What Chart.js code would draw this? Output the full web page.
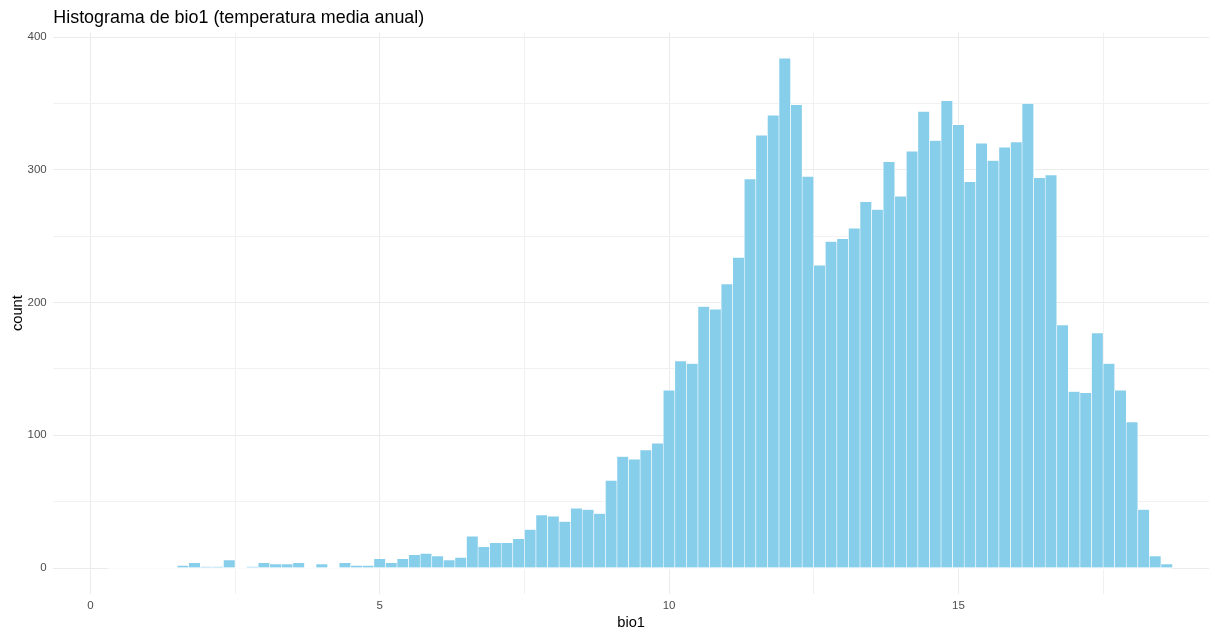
<!DOCTYPE html>
<html lang="es">
<head>
<meta charset="utf-8">
<title>Histograma de bio1</title>
<script src="https://cdn.jsdelivr.net/npm/chart.js@4.4.1/dist/chart.umd.min.js"></script>
<style>
  html, body { margin: 0; padding: 0; background: #ffffff; }
  #wrap { width: 1215px; height: 632px; }
</style>
</head>
<body>
<div id="wrap"><canvas id="hist" width="1215" height="632"></canvas></div>
<script>
// centros de las clases (ancho 0.2) y conteos
const binCenters = [
  0.4, 0.6, 0.8, 1.0, 1.2, 1.4, 1.6, 1.8, 2.0, 2.2,
  2.4, 2.6, 2.8, 3.0, 3.2, 3.4, 3.6, 3.8, 4.0, 4.2,
  4.4, 4.6, 4.8, 5.0, 5.2, 5.4, 5.6, 5.8, 6.0, 6.2,
  6.4, 6.6, 6.8, 7.0, 7.2, 7.4, 7.6, 7.8, 8.0, 8.2,
  8.4, 8.6, 8.8, 9.0, 9.2, 9.4, 9.6, 9.8, 10.0, 10.2,
  10.4, 10.6, 10.8, 11.0, 11.2, 11.4, 11.6, 11.8, 12.0, 12.2,
  12.4, 12.6, 12.8, 13.0, 13.2, 13.4, 13.6, 13.8, 14.0, 14.2,
  14.4, 14.6, 14.8, 15.0, 15.2, 15.4, 15.6, 15.8, 16.0, 16.2,
  16.4, 16.6, 16.8, 17.0, 17.2, 17.4, 17.6, 17.8, 18.0, 18.2,
  18.4, 18.6
];
const binCounts = [
  0, 0, 0, 0, 0, 0, 2, 4, 1, 1,
  6, 0, 1, 4, 3, 3, 4, 0, 3, 0,
  4, 2, 2, 7, 4, 7, 10, 11, 9, 6,
  8, 24, 16, 19, 19, 22, 29, 40, 39, 35,
  45, 44, 41, 66, 84, 82, 89, 94, 134, 156,
  154, 197, 195, 214, 234, 293, 326, 341, 384, 349,
  295, 228, 246, 248, 256, 276, 270, 306, 280, 314,
  344, 322, 352, 334, 291, 320, 307, 317, 321, 350,
  294, 296, 183, 133, 132, 177, 154, 134, 110, 44,
  9, 3
];
const binWidth = 0.2;

const xTicks = [0, 2.5, 5, 7.5, 10, 12.5, 15, 17.5];
const xTickLabels = ['0', '', '5', '', '10', '', '15', ''];
const yTicks = [0, 50, 100, 150, 200, 250, 300, 350, 400];
const yTickLabels = ['0', '', '100', '', '200', '', '300', '', '400'];

const xRange = [-0.64, 19.33];
const yRange = [-19.2, 403.2];

const FONT = '"Liberation Sans", Arial, sans-serif';

// las clases vacías llevan borde blanco sobre la línea del cero
const zeroBinsOutline = {
  id: 'zeroBinsOutline',
  beforeDatasetsDraw(chart) {
    const { ctx, scales: { x, y } } = chart;
    const y0 = y.getPixelForValue(0);
    ctx.save();
    ctx.strokeStyle = '#ffffff';
    ctx.lineWidth = 1.5;
    ctx.beginPath();
    ctx.moveTo(x.getPixelForValue(binCenters[0] - binWidth / 2), y0);
    ctx.lineTo(x.getPixelForValue(binCenters[binCenters.length - 1] + binWidth / 2), y0);
    ctx.stroke();
    ctx.restore();
  }
};

const gridColor = major => ctx => (ctx.tick && ctx.tick.value % major === 0) ? '#ebebeb' : '#f1f1f1';

new Chart(document.getElementById('hist'), {
  type: 'bar',
  data: {
    datasets: [{
      data: binCenters.map((c, i) => ({ x: c, y: binCounts[i] })),
      backgroundColor: '#87ceeb',
      borderColor: '#ffffff',
      borderWidth: 0.6,
      borderSkipped: 'start',
      barPercentage: 1,
      categoryPercentage: 1
    }]
  },
  options: {
    responsive: false,
    devicePixelRatio: 1,
    animation: false,
    layout: { padding: { left: 0, right: 6, top: 0, bottom: 0 } },
    plugins: {
      legend: { display: false },
      tooltip: { enabled: false },
      title: {
        display: true,
        text: 'Histograma de bio1 (temperatura media anual)',
        align: 'start',
        fullSize: false,
        color: '#000000',
        font: { family: FONT, size: 17.9, weight: 'normal' },
        padding: { top: 7.3, bottom: 4 }
      }
    },
    scales: {
      x: {
        type: 'linear',
        offset: false,
        min: xRange[0],
        max: xRange[1],
        afterBuildTicks: s => { s.ticks = xTicks.map(v => ({ value: v })); },
        afterFit: s => { s.height = 38.5; },
        ticks: {
          autoSkip: false,
          maxRotation: 0,
          padding: 5.5,
          color: '#4d4d4d',
          font: { family: FONT, size: 11.5 },
          callback: (v, i) => xTickLabels[i]
        },
        grid: { offset: false, color: gridColor(5), lineWidth: 1, drawTicks: false },
        border: { display: false },
        title: {
          display: true,
          text: 'bio1',
          color: '#000000',
          font: { family: FONT, size: 14.7 },
          padding: { top: 0, bottom: 0 }
        }
      },
      y: {
        min: yRange[0],
        max: yRange[1],
        afterBuildTicks: s => { s.ticks = yTicks.map(v => ({ value: v })); },
        afterFit: s => { s.width = 53.3; },
        ticks: {
          padding: 6.6,
          color: '#4d4d4d',
          font: { family: FONT, size: 11.5 },
          callback: (v, i) => yTickLabels[i]
        },
        grid: { color: gridColor(100), lineWidth: 1, drawTicks: false },
        border: { display: false },
        title: {
          display: true,
          text: 'count',
          color: '#000000',
          font: { family: FONT, size: 14.7 },
          padding: { top: 9.2, bottom: 0 }
        }
      }
    }
  },
  plugins: [zeroBinsOutline]
});
</script>
</body>
</html>
